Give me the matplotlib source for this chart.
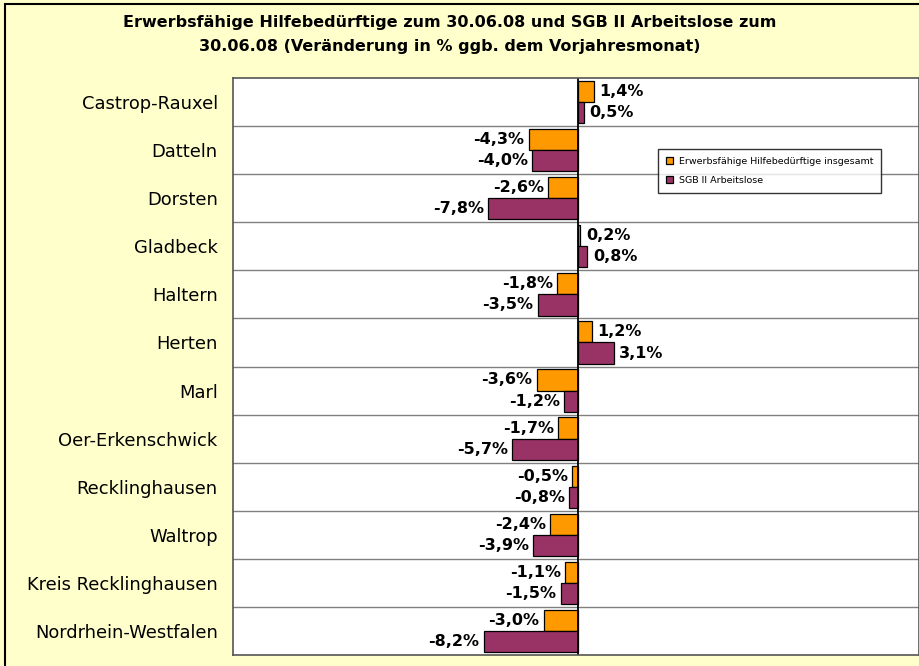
import numpy as np
import matplotlib.pyplot as plt
from matplotlib.patches import Rectangle

# data (change in % vs. previous year month)
cities = ["Castrop-Rauxel", "Datteln", "Dorsten", "Gladbeck", "Haltern", "Herten",
          "Marl", "Oer-Erkenschwick", "Recklinghausen", "Waltrop",
          "Kreis Recklinghausen", "Nordrhein-Westfalen"]
ehb = [1.4, -4.3, -2.6, 0.2, -1.8, 1.2, -3.6, -1.7, -0.5, -2.4, -1.1, -3.0]
sgb = [0.5, -4.0, -7.8, 0.8, -3.5, 3.1, -1.2, -5.7, -0.8, -3.9, -1.5, -8.2]
series_names = ["Erwerbsfähige Hilfebedürftige insgesamt", "SGB II Arbeitslose"]

c_orange = "#FF9900"
c_purple = "#993366"
bg = "#FFFFCC"

fig = plt.figure(figsize=(9.19, 6.66), dpi=100)
fig.patch.set_facecolor(bg)
# outer chart border (cut off on right and bottom in the original)
fig.patches.append(Rectangle((5 / 919, -0.05), 1.2, 1 - 4 / 666 + 0.05,
                             transform=fig.transFigure, fill=False,
                             edgecolor="black", linewidth=1.5))

ax = fig.add_axes([233 / 919, 1 - 655 / 666, 1 - 233 / 919, (655 - 78) / 666])
ax.set_facecolor("white")

y = np.arange(len(cities))
h = 0.44
b1 = ax.barh(y - h / 2, ehb, height=h, color=c_orange, edgecolor="black",
             linewidth=0.9, label=series_names[0])
b2 = ax.barh(y + h / 2, sgb, height=h, color=c_purple, edgecolor="black",
             linewidth=0.9, label=series_names[1])

for bars, vals in [(b1, ehb), (b2, sgb)]:
    for bar, v in zip(bars, vals):
        txt = f"{v:.1f}%".replace(".", ",")
        yc = bar.get_y() + bar.get_height() / 2
        if v >= 0:
            ax.annotate(txt, (v, yc), xytext=(4, 0), textcoords="offset points",
                        ha="left", va="center", fontsize=11.5, fontweight="bold")
        else:
            ax.annotate(txt, (v, yc), xytext=(-3, 0), textcoords="offset points",
                        ha="right", va="center", fontsize=11.5, fontweight="bold")

ax.set_xlim(-30, 29.65)
ax.set_ylim(len(cities) - 0.5, -0.5)

# row separators
for k in range(1, len(cities)):
    ax.axhline(k - 0.5, color="#808080", linewidth=1)
ax.axvline(0, color="black", linewidth=1.3)

ax.set_yticks(y)
ax.set_yticklabels(cities, fontsize=12.9)
ax.tick_params(axis="y", length=0, pad=11)
ax.set_xticks([])
for s in ax.spines.values():
    s.set_color("#555555")
    s.set_linewidth(1.2)

leg = ax.legend(loc="upper left", bbox_to_anchor=((658 - 233) / 686, 1 - (149 - 78) / 577),
                borderaxespad=0, fontsize=6.8, frameon=True, fancybox=False,
                edgecolor="black", handlelength=0.8, handleheight=0.8,
                labelspacing=1.1, handletextpad=0.6, borderpad=0.8)
leg.get_frame().set_linewidth(1)

fig.text(450 / 919, 1 - 35 / 666,
         "Erwerbsfähige Hilfebedürftige zum 30.06.08 und SGB II Arbeitslose zum\n"
         "30.06.08 (Veränderung in % ggb. dem Vorjahresmonat)",
         ha="center", va="center", fontsize=11.5, fontweight="bold", linespacing=1.75)

fig.savefig("out.png", dpi=100, facecolor=bg)
